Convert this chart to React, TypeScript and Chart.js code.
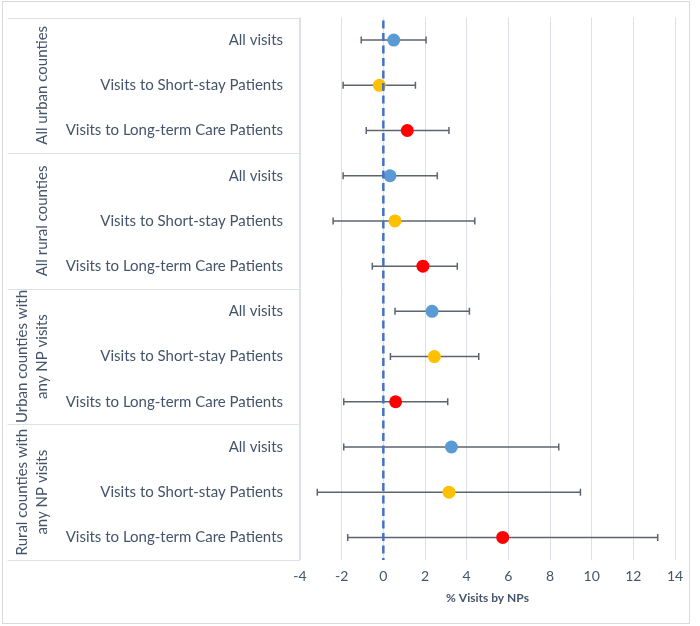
import React, { useEffect, useRef } from 'react';
import { Chart, registerables } from 'chart.js';

Chart.register(...registerables);

const groups: string[][] = [
  ['All urban counties'],
  ['All rural counties'],
  ['Urban counties with', 'any NP visits'],
  ['Rural counties with', 'any NP visits'],
];
const subcategories = ['All visits', 'Visits to Short-stay Patients', 'Visits to Long-term Care Patients'];
const estimates = [0.5, -0.19, 1.15, 0.32, 0.56, 1.9, 2.34, 2.45, 0.59, 3.27, 3.15, 5.73];
const lower = [-1.06, -1.93, -0.82, -1.93, -2.41, -0.53, 0.56, 0.34, -1.9, -1.9, -3.17, -1.71];
const upper = [2.05, 1.54, 3.15, 2.59, 4.39, 3.55, 4.13, 4.58, 3.09, 8.42, 9.46, 13.17];
const subColors = ['#5B9BD5', '#FFC000', '#FF0000'];
const xMin = -4;
const xMax = 14;
const xStep = 2;
const xTitle = '% Visits by NPs';
const refValue = 0;

const rowLabels = groups.flatMap(() => subcategories);
const TEXT = '#44546A';
const FONT = 'Lato, "Open Sans", sans-serif';
const LINE = '#dde1e7';

const forestPlugin = {
  id: 'forest',
  beforeDraw(chart: any) {
    const { ctx } = chart;
    ctx.save();
    ctx.fillStyle = '#ffffff';
    ctx.fillRect(0, 0, chart.width, chart.height);
    ctx.strokeStyle = '#d9d9d9';
    ctx.lineWidth = 1;
    ctx.strokeRect(2.5, 1.5, 687, 622);
    ctx.restore();
  },
  beforeDatasetsDraw(chart: any) {
    const { ctx, chartArea: ca, scales } = chart;
    const y = scales.y;
    const x = scales.x;
    ctx.save();
    // table lines
    ctx.strokeStyle = LINE;
    ctx.lineWidth = 1;
    const tableLeft = 7.5;
    for (let g = 0; g <= groups.length; g++) {
      const yy = Math.round(y.getPixelForValue(g * subcategories.length - 0.5)) + 0.5;
      ctx.beginPath();
      ctx.moveTo(tableLeft, yy);
      ctx.lineTo(ca.left, yy);
      ctx.stroke();
    }
    ctx.beginPath();
    ctx.moveTo(Math.round(ca.left) - 0.5, ca.top);
    ctx.lineTo(Math.round(ca.left) - 0.5, ca.bottom);
    ctx.stroke();
    // group labels
    ctx.fillStyle = TEXT;
    ctx.font = `15px ${FONT}`;
    ctx.textAlign = 'center';
    ctx.textBaseline = 'middle';
    groups.forEach((lines, g) => {
      const y0 = y.getPixelForValue(g * subcategories.length - 0.5);
      const y1 = y.getPixelForValue((g + 1) * subcategories.length - 0.5);
      const cy = (y0 + y1) / 2;
      const n = lines.length;
      lines.forEach((t, i) => {
        const cx = 42 - (n - 1 - i) * 20;
        ctx.save();
        ctx.translate(cx, cy);
        ctx.rotate(-Math.PI / 2);
        ctx.fillText(t, 0, 0);
        ctx.restore();
      });
    });
    // error bars
    ctx.strokeStyle = '#5d6470';
    ctx.lineWidth = 1.5;
    estimates.forEach((_, i) => {
      const yy = y.getPixelForValue(i);
      const xl = x.getPixelForValue(lower[i]);
      const xu = x.getPixelForValue(upper[i]);
      ctx.beginPath();
      ctx.moveTo(xl, yy);
      ctx.lineTo(xu, yy);
      ctx.moveTo(xl, yy - 3.5);
      ctx.lineTo(xl, yy + 3.5);
      ctx.moveTo(xu, yy - 3.5);
      ctx.lineTo(xu, yy + 3.5);
      ctx.stroke();
    });
    ctx.restore();
  },
  afterDatasetsDraw(chart: any) {
    const { ctx, chartArea: ca, scales } = chart;
    const xx = scales.x.getPixelForValue(refValue);
    ctx.save();
    ctx.strokeStyle = '#4472C4';
    ctx.lineWidth = 2.5;
    ctx.setLineDash([8, 4.5]);
    ctx.beginPath();
    ctx.moveTo(xx, ca.top + 3);
    ctx.lineTo(xx, ca.bottom);
    ctx.stroke();
    ctx.restore();
  },
};

export default function App() {
  const ref = useRef<HTMLCanvasElement>(null);
  useEffect(() => {
    if (!ref.current) return;
    const chart = new Chart(ref.current, {
      type: 'scatter',
      data: {
        datasets: [
          {
            data: estimates.map((v, i) => ({ x: v, y: i })),
            backgroundColor: estimates.map((_, i) => subColors[i % subColors.length]),
            borderColor: estimates.map((_, i) => subColors[i % subColors.length]),
            pointRadius: 6.5,
            pointHoverRadius: 6.5,
            borderWidth: 0,
          },
        ],
      },
      options: {
        animation: false,
        responsive: false,
        devicePixelRatio: 1,
        layout: { padding: { top: 17.5, right: 25, bottom: 17, left: 0 } },
        plugins: { legend: { display: false }, tooltip: { enabled: false } },
        scales: {
          x: {
            type: 'linear',
            min: xMin,
            max: xMax,
            ticks: { stepSize: xStep, color: TEXT, font: { family: FONT, size: 14 }, padding: 8.5 },
            grid: { color: LINE, drawTicks: false },
            border: { display: false },
            title: {
              display: true,
              text: xTitle,
              color: TEXT,
              font: { family: FONT, size: 12, weight: 'bold' },
              padding: { top: 5, bottom: 4 },
            },
            afterFit: (scale: any) => {
              scale.height = 49;
              scale.paddingLeft = 0;
              scale.paddingRight = 0;
            },
          },
          y: {
            type: 'linear',
            reverse: true,
            min: -0.5,
            max: rowLabels.length - 0.5,
            afterBuildTicks: (axis: any) => {
              axis.ticks = rowLabels.map((_, i) => ({ value: i }));
            },
            afterFit: (scale: any) => {
              scale.width = 300;
              scale.paddingTop = 0;
              scale.paddingBottom = 0;
            },
            ticks: {
              autoSkip: false,
              color: TEXT,
              font: { family: FONT, size: 15 },
              padding: 17,
              callback: (v: any) => rowLabels[v as number] ?? '',
            },
            grid: { display: false, drawTicks: false },
            border: { display: false },
          },
        },
      },
      plugins: [forestPlugin],
    } as any);
    return () => chart.destroy();
  }, []);
  return (
    <div style={{ position: 'absolute', left: 0, top: 0, width: 700, height: 626 }}>
      <canvas ref={ref} width={700} height={626} style={{ width: 700, height: 626 }} />
    </div>
  );
}
